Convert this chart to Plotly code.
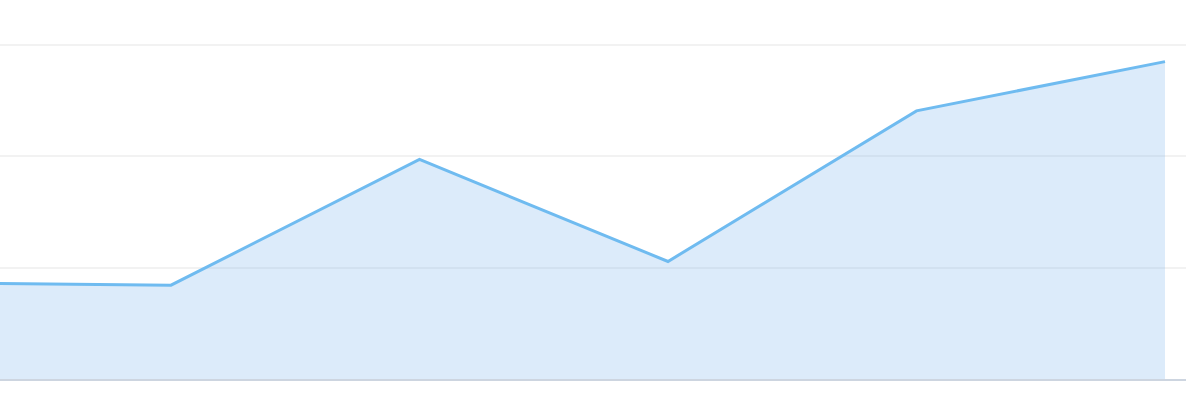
import plotly.graph_objects as go

# dados (sem rótulos visíveis)
periodos = [0, 1, 2, 3, 4, 5]
valores = [8.64, 8.42, 19.71, 10.55, 24.07, 28.49]
grade_y = [10, 20, 30]

fig = go.Figure()

fig.add_trace(go.Scatter(
    x=periodos,
    y=valores,
    mode="lines",
    fill="tozeroy",
    fillcolor="rgba(124,181,236,0.27)",
    line=dict(color="#6fbbf0", width=3),
    hoverinfo="skip",
    showlegend=False,
))

fig.update_layout(
    width=1186,
    height=402,
    margin=dict(l=0, r=0, t=0, b=23),
    paper_bgcolor="white",
    plot_bgcolor="white",
)

fig.update_xaxes(
    range=[0.3119, 5.0845],
    showgrid=False,
    zeroline=False,
    showticklabels=False,
    ticks="",
    showline=True,
    linecolor="#cdd5e0",
    linewidth=1.5,
)

fig.update_yaxes(
    range=[0, 34.02],
    tickvals=grade_y,
    showticklabels=False,
    gridcolor="#f2f2f2",
    gridwidth=1.5,
    zeroline=False,
    ticks="",
)

fig.write_html("out.html", config={"displayModeBar": False})

# tirar a margem padrão do body para o gráfico encostar nas bordas
with open("out.html", encoding="utf-8") as f:
    html = f.read()
html = html.replace("<head>", "<head><style>body{margin:0;overflow:hidden}</style>", 1)
with open("out.html", "w", encoding="utf-8") as f:
    f.write(html)
